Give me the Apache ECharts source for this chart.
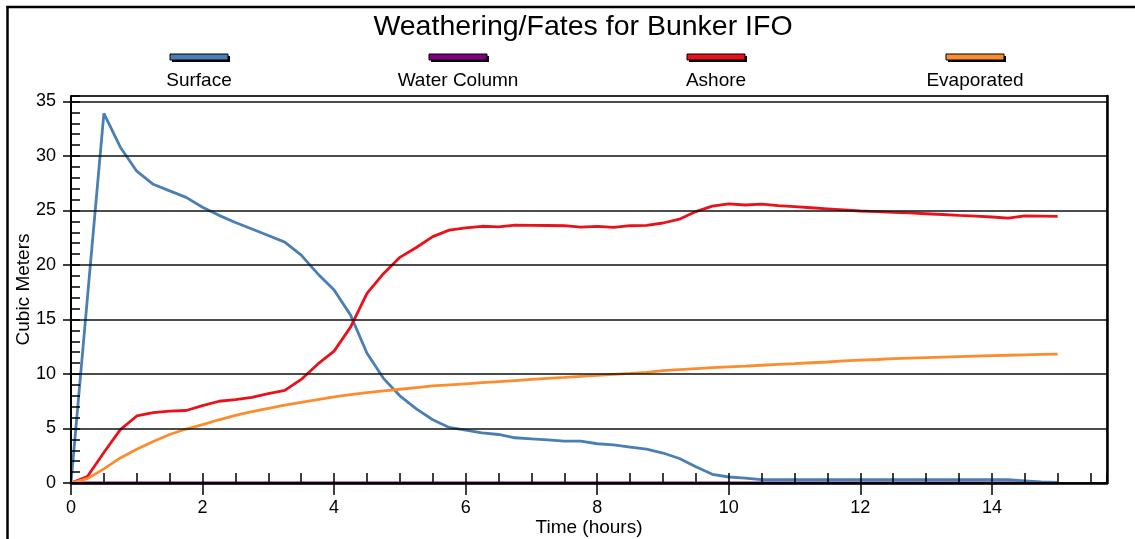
<!DOCTYPE html>
<html>
<head>
<meta charset="utf-8">
<script src="https://cdn.jsdelivr.net/npm/echarts@6/dist/echarts.min.js"></script>
<style>
html,body{margin:0;padding:0;background:#fff;}
#chart{width:1135px;height:539px;}
</style>
</head>
<body>
<div id="chart"></div>
<script>
// ---- data ----
var titleText = 'Weathering/Fates for Bunker IFO';
var seriesNames = ['Surface', 'Water Column', 'Ashore', 'Evaporated'];
var seriesColors = ['#4a7fb4', '#800080', '#e8121a', '#fb8d2e'];
var xAxisName = 'Time (hours)';
var yAxisName = 'Cubic Meters';

// time in hours, every 0.25 h from 0 to 15
var times = [0,0.25,0.5,0.75,1,1.25,1.5,1.75,2,2.25,2.5,2.75,3,3.25,3.5,3.75,4,4.25,4.5,4.75,
  5,5.25,5.5,5.75,6,6.25,6.5,6.75,7,7.25,7.5,7.75,8,8.25,8.5,8.75,9,9.25,9.5,9.75,
  10,10.25,10.5,10.75,11,11.25,11.5,11.75,12,12.25,12.5,12.75,13,13.25,13.5,13.75,14,14.25,14.5,14.75,15];

var surface = [0,17.0,33.9,30.8,28.6,27.4,26.8,26.2,25.3,24.55,23.9,23.3,22.7,22.1,20.9,19.2,17.7,15.4,11.9,9.6,
  8.0,6.8,5.8,5.1,4.85,4.6,4.45,4.15,4.05,3.95,3.85,3.85,3.6,3.5,3.3,3.1,2.75,2.25,1.5,0.8,
  0.55,0.45,0.3,0.3,0.3,0.3,0.3,0.3,0.3,0.3,0.3,0.3,0.3,0.3,0.3,0.3,0.3,0.3,0.2,0.1,0.05];

var waterColumn = [0,0,0,0,0,0,0,0,0,0,0,0,0,0,0,0,0,0,0,0,
  0,0,0,0,0,0,0,0,0,0,0,0,0,0,0,0,0,0,0,0,
  0,0,0,0,0,0,0,0,0,0,0,0,0,0,0,0,0,0,0,0,0];

var ashore = [0,0.6,2.8,4.9,6.15,6.45,6.6,6.65,7.1,7.5,7.65,7.85,8.2,8.5,9.5,10.9,12.1,14.3,17.4,19.2,
  20.7,21.6,22.6,23.2,23.4,23.55,23.5,23.65,23.63,23.62,23.6,23.48,23.54,23.45,23.6,23.63,23.85,24.2,24.9,25.4,
  25.6,25.5,25.58,25.45,25.35,25.25,25.15,25.05,24.95,24.9,24.83,24.77,24.7,24.63,24.55,24.48,24.4,24.3,24.5,24.48,24.45];

var evaporated = [0,0.4,1.3,2.3,3.1,3.8,4.45,4.95,5.35,5.8,6.2,6.55,6.85,7.15,7.4,7.65,7.9,8.1,8.3,8.45,
  8.6,8.75,8.9,9.0,9.1,9.2,9.3,9.4,9.5,9.6,9.68,9.78,9.87,9.96,10.05,10.15,10.3,10.4,10.5,10.58,
  10.66,10.72,10.8,10.88,10.95,11.03,11.1,11.2,11.27,11.33,11.4,11.45,11.5,11.55,11.6,11.64,11.68,11.72,11.76,11.8,11.83];

var seriesValues = [surface, waterColumn, ashore, evaporated];

// ---- chart ----
var FONT = '"Liberation Sans", Arial, sans-serif';
var chart = echarts.init(document.getElementById('chart'), null, {renderer: 'canvas'});

function pairs(vals) {
  return times.map(function (t, i) { return [t, vals[i]]; });
}

var series = seriesNames.map(function (name, i) {
  return {
    name: name,
    type: 'line',
    data: pairs(seriesValues[i]),
    showSymbol: false,
    symbol: 'none',
    z: name === 'Water Column' ? 1 : 2,
    lineStyle: {color: seriesColors[i], width: 2.8},
    itemStyle: {color: seriesColors[i]},
    animation: false
  };
});

// legend drawn as graphic: swatch above, label below
var legendCenters = [199, 458, 716, 975];
var graphics = [
  // outer frame
  {type: 'line', shape: {x1: 7.5, y1: 6, x2: 7.5, y2: 539}, style: {stroke: '#000', lineWidth: 2.5}, z: 100},
  {type: 'line', shape: {x1: 6.5, y1: 7, x2: 1135, y2: 7}, style: {stroke: '#000', lineWidth: 2.5}, z: 100}
];
seriesNames.forEach(function (name, i) {
  var cx = legendCenters[i];
  graphics.push({type: 'rect', shape: {x: cx - 29 + 2, y: 54 + 2, width: 58, height: 6}, style: {fill: '#000'}, z: 100});
  graphics.push({type: 'rect', shape: {x: cx - 29, y: 54, width: 58, height: 6}, style: {fill: seriesColors[i], stroke: '#000', lineWidth: 1}, z: 101});
  graphics.push({type: 'text', x: cx, y: 81, style: {text: name, fill: '#000', font: '19px ' + FONT, textAlign: 'center', textVerticalAlign: 'middle'}, z: 101});
});

var option = {
  backgroundColor: '#fff',
  animation: false,
  title: {
    text: titleText,
    left: 578, top: 8,
    textAlign: 'center',
    textStyle: {fontFamily: FONT, fontSize: 28.5, fontWeight: 'normal', color: '#000'}
  },
  grid: {left: 71, top: 96, right: 28, bottom: 56, show: true, borderColor: '#000', borderWidth: 1,
    backgroundColor: '#fff', containLabel: false, outerBoundsMode: 'none'},
  xAxis: [
    {
      type: 'value', min: 0, max: 15.75, interval: 2, position: 'bottom', z: 3,
      name: xAxisName, nameLocation: 'middle', nameGap: 35, nameMoveOverlap: false,
      nameTextStyle: {fontFamily: FONT, fontSize: 19, color: '#000'},
      axisLine: {lineStyle: {color: '#000', width: 2.5}},
      axisTick: {inside: false, length: 12, lineStyle: {color: '#000', width: 1.5}},
      axisLabel: {fontFamily: FONT, fontSize: 18, color: '#000', margin: 16, showMaxLabel: false},
      splitLine: {show: false}
    },
    {
      type: 'value', min: 0, max: 15.75, interval: 0.5, position: 'bottom', z: 3,
      axisLine: {show: false},
      axisTick: {inside: true, length: 10, lineStyle: {color: '#000', width: 1.5}},
      axisLabel: {show: false},
      splitLine: {show: false}
    }
  ],
  yAxis: [
    {
      type: 'value', min: 0, max: 35.5, interval: 5, position: 'left', z: 3,
      name: yAxisName, nameLocation: 'middle', nameGap: 38, nameRotate: 90, nameMoveOverlap: false,
      nameTextStyle: {fontFamily: FONT, fontSize: 19, color: '#000'},
      axisLine: {show: true, lineStyle: {color: '#000', width: 2}},
      axisTick: {show: true, inside: false, length: 8, lineStyle: {color: '#000', width: 1.5}},
      axisLabel: {fontFamily: FONT, fontSize: 18, color: '#000', margin: 15, showMaxLabel: false},
      splitLine: {show: true, lineStyle: {color: '#111', width: 1.6}}
    },
    {
      type: 'value', min: 0, max: 35.5, interval: 1, position: 'left', z: 3,
      axisLine: {show: false},
      axisTick: {show: true, inside: true, length: 9, lineStyle: {color: '#000', width: 1.5}},
      axisLabel: {show: false},
      splitLine: {show: false}
    },
    {
      type: 'value', min: 0, max: 35.5, position: 'right', z: 3,
      axisLine: {show: true, lineStyle: {color: '#000', width: 2.5}},
      axisTick: {show: false},
      axisLabel: {show: false},
      splitLine: {show: false}
    }
  ],
  series: series,
  graphic: graphics
};
chart.setOption(option);
</script>
</body>
</html>
